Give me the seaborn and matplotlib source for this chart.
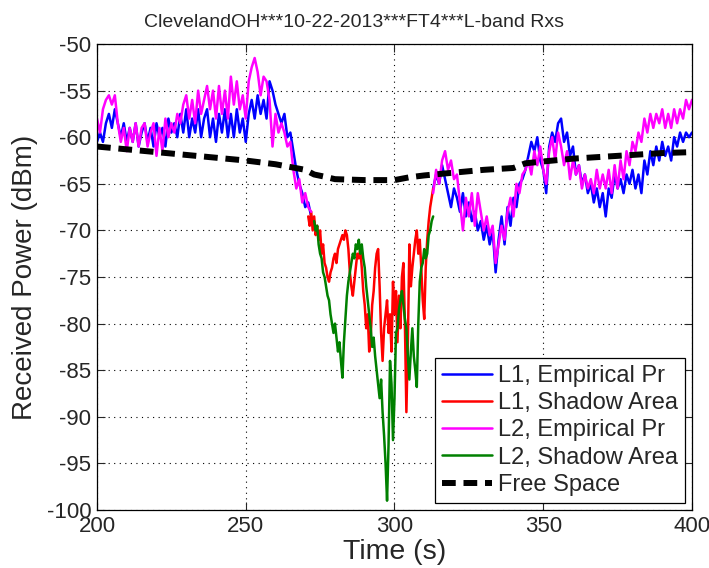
import numpy as np
import pandas as pd
import seaborn as sns
import matplotlib.pyplot as plt

sns.set_style("ticks")
plt.rcParams['font.family'] = ['Liberation Sans', 'DejaVu Sans']
plt.rcParams['axes.unicode_minus'] = False

# L1 / L2 empirical power, 1 s steps, two segments (before and after the shadow)
seg1_start = 200
l1_emp_seg1 = [-60.5, -59.5, -60.5, -58.5, -57.5, -59.0, -57.0, -58.5, -60.0, -58.5,
               -60.5, -59.0, -60.5, -58.5, -61.0, -59.5, -58.5, -60.5, -59.0, -61.0,
               -58.5, -60.0, -59.0, -61.0, -58.0, -59.5, -58.5, -60.0, -57.5, -59.5,
               -57.0, -60.0, -58.0, -59.5, -57.0, -60.0, -58.0, -57.0, -60.0, -58.0,
               -60.5, -57.5, -59.5, -57.0, -60.0, -57.5, -60.0, -57.0, -59.5, -58.0,
               -60.5, -57.5, -56.0, -58.0, -55.5, -57.5, -56.0, -58.0, -54.0, -55.0,
               -56.5, -57.5, -58.5, -57.5, -60.0, -59.5, -61.5, -63.5, -65.0, -66.0,
               -67.5, -67.0, -68.5]
l2_emp_seg1 = [-58.0, -59.5, -57.0, -56.0, -55.5, -56.5, -55.5, -58.5, -60.5, -59.0,
               -61.5, -59.0, -60.5, -58.5, -61.0, -59.0, -58.5, -61.0, -59.5, -58.5,
               -62.0, -59.0, -61.5, -58.0, -60.0, -58.5, -59.5, -57.5, -58.5, -56.5,
               -55.5, -58.0, -56.0, -58.5, -55.0, -57.5, -56.0, -54.5, -57.0, -55.0,
               -58.0, -54.5, -57.5, -55.0, -58.0, -53.5, -56.5, -54.0, -57.0, -55.5,
               -58.0, -54.0, -52.5, -51.5, -53.0, -55.5, -53.5, -54.0, -56.0, -61.0,
               -57.5, -59.5, -58.5, -59.5, -61.0, -60.5, -63.5, -65.5, -64.5, -67.0,
               -66.0, -67.5, -68.0]

seg2_start = 313
l1_emp_seg2 = [-65.5, -64.0, -65.0, -63.0, -64.5, -66.0, -67.5, -65.5, -66.5, -68.0,
               -66.0, -68.5, -67.0, -69.0, -68.0, -70.0, -69.0, -71.0, -69.5, -71.5,
               -70.0, -74.5, -71.0, -68.5, -71.5, -67.5, -69.5, -66.5, -67.5, -65.0,
               -64.5, -63.5, -62.0, -60.5, -61.5, -60.0, -62.5, -63.5, -66.0, -61.0,
               -59.5, -60.5, -58.5, -58.0, -60.5, -59.5, -62.0, -61.0, -64.0, -63.0,
               -65.0, -64.0, -66.0, -65.0, -67.0, -65.5, -67.5, -66.0, -68.5, -65.5,
               -66.5, -64.0, -65.5, -64.5, -66.0, -64.0, -65.0, -63.5, -65.5, -64.0,
               -66.0, -62.5, -64.0, -61.5, -63.0, -61.0, -62.5, -60.5, -62.0, -61.0,
               -62.5, -60.0, -61.0, -59.5, -60.5, -59.5, -60.0, -59.5]
l2_emp_seg2 = [-66.0, -63.5, -65.0, -62.5, -61.5, -63.5, -62.5, -64.5, -64.0, -67.0,
               -70.0, -66.5, -68.5, -66.0, -69.5, -66.0, -68.0, -70.0, -68.5, -70.5,
               -69.5, -73.5, -71.5, -69.5, -71.0, -68.0, -66.5, -68.5, -65.0, -66.0,
               -64.0, -63.5, -62.5, -64.0, -61.5, -63.0, -61.0, -63.5, -65.0, -61.5,
               -60.0, -62.5, -59.5, -61.0, -63.0, -61.5, -64.5, -62.5, -64.0, -63.0,
               -65.5, -64.0, -65.5, -64.5, -66.0, -63.5, -65.5, -64.0, -65.5, -63.5,
               -66.0, -63.0, -65.5, -62.5, -64.5, -61.5, -63.0, -60.5, -61.5, -59.5,
               -60.5, -58.0, -59.5, -57.5, -59.0, -57.5, -58.5, -57.0, -59.0, -57.5,
               -59.0, -57.0, -58.5, -57.0, -58.0, -56.0, -57.0, -56.0]

# shadow area, 0.5 s steps
l1_shadow_start = 271
l1_shadow = [-68.5, -69.5, -68.0, -70.0, -68.5, -70.5, -69.5, -71.0, -70.0, -72.5,
             -71.5, -73.5, -74.0, -75.0, -75.5, -74.5, -74.0, -73.0, -72.5, -73.5,
             -72.0, -71.5, -71.0, -70.5, -71.0, -70.0, -70.5, -72.0, -74.5, -76.0,
             -77.0, -75.5, -74.0, -72.5, -73.0, -72.0, -74.0, -76.5, -78.0, -80.5,
             -79.0, -83.0, -81.5, -78.0, -76.5, -74.0, -72.5, -72.0, -76.0, -81.0,
             -84.0, -80.5, -79.0, -77.5, -81.0, -79.0, -83.0, -75.5, -79.0, -76.5,
             -82.0, -77.0, -80.5, -75.0, -73.5, -80.0, -89.5, -82.0, -71.5, -76.0,
             -74.0, -72.5, -71.0, -70.0, -72.5, -71.0, -74.0, -77.5, -79.5, -74.0,
             -71.0, -69.0, -67.5, -66.5, -65.5]
l2_shadow_start = 273
l2_shadow = [-69.0, -70.0, -69.5, -71.5, -72.5, -73.0, -74.5, -75.0, -76.0, -77.0,
             -77.5, -79.0, -80.0, -81.0, -80.0, -81.5, -83.0, -82.0, -84.0, -85.8,
             -82.0, -79.5, -77.0, -75.5, -74.5, -73.5, -72.5, -73.0, -71.5, -72.0,
             -71.0, -72.5, -71.5, -73.0, -74.0, -76.0, -77.5, -79.0, -80.5, -82.5,
             -81.5, -83.5, -85.0, -86.5, -88.0, -86.0, -89.5, -92.0, -95.0, -99.0,
             -93.0, -84.0, -86.5, -92.5, -88.0, -81.0, -80.5, -78.5, -77.5, -76.5,
             -78.0, -79.5, -80.5, -83.5, -86.0, -83.0, -80.5, -83.5, -85.0, -86.8,
             -80.0, -75.5, -74.0, -73.5, -72.0, -73.0, -72.5, -70.5, -70.0, -69.0,
             -68.5]

# free space prediction
fs_time = [200, 210, 220, 230, 240, 250, 260, 265, 270, 273, 276, 280, 290, 300,
           305, 310, 320, 330, 340, 344, 350, 360, 370, 380, 390, 400]
fs_power = [-61.0, -61.3, -61.6, -61.9, -62.2, -62.5, -62.9, -63.2, -63.5, -64.0,
            -64.2, -64.5, -64.6, -64.6, -64.3, -64.1, -63.8, -63.5, -63.3, -62.8,
            -62.6, -62.3, -62.1, -61.9, -61.7, -61.6]

t1 = seg1_start + np.arange(len(l1_emp_seg1))
t2 = seg2_start + np.arange(len(l1_emp_seg2))
ts1 = l1_shadow_start + 0.5 * np.arange(len(l1_shadow))
ts2 = l2_shadow_start + 0.5 * np.arange(len(l2_shadow))

fig = plt.figure(figsize=(7.09, 5.68), dpi=100)
ax = fig.add_axes([0.1368, 0.1021, 0.8392, 0.8204])

lw = 1.8
sns.lineplot(x=t1, y=l1_emp_seg1, color=(0, 0, 1), lw=lw, ax=ax, label="L1, Empirical Pr")
sns.lineplot(x=t2, y=l1_emp_seg2, color=(0, 0, 1), lw=lw, ax=ax)
sns.lineplot(x=ts1, y=l1_shadow, color=(1, 0, 0), lw=lw, ax=ax, label="L1, Shadow Area")
sns.lineplot(x=t1, y=l2_emp_seg1, color=(1, 0, 1), lw=lw, ax=ax, label="L2, Empirical Pr")
sns.lineplot(x=t2, y=l2_emp_seg2, color=(1, 0, 1), lw=lw, ax=ax)
sns.lineplot(x=ts2, y=l2_shadow, color=(0, 0.5, 0), lw=lw, ax=ax, label="L2, Shadow Area")
sns.lineplot(x=fs_time, y=fs_power, color="k", lw=4.3, ax=ax, label="Free Space",
             dashes=False, linestyle=(0, (2.3, 1.3)), dash_capstyle="butt")

ax.set_xlim(200, 400)
ax.set_ylim(-100, -50)
ax.set_xticks(np.arange(200, 401, 50))
ax.set_yticks(np.arange(-100, -49, 5))
ax.grid(True, color="k", linestyle=(0, (1, 4)), lw=0.8)
ax.tick_params(direction="in", length=6, width=0.8, top=True, right=True,
               labelsize=16, pad=4)
for s in ax.spines.values():
    s.set_visible(True)
    s.set_linewidth(0.9)
    s.set_color("k")

ax.set_title("ClevelandOH***10-22-2013***FT4***L-band Rxs", fontsize=14, pad=12,
             x=0.432)
ax.set_xlabel("Time (s)", fontsize=20.5, labelpad=2)
ax.set_ylabel("Received Power (dBm)", fontsize=20, labelpad=6)

leg = ax.legend(loc="lower right", fontsize=17, frameon=True, fancybox=False,
                framealpha=1, edgecolor="k", borderaxespad=0.3, handlelength=2.1,
                handletextpad=0.25, labelspacing=0.22, borderpad=0.3)
leg.get_frame().set_linewidth(0.9)

fig.savefig("out.png", dpi=100)
